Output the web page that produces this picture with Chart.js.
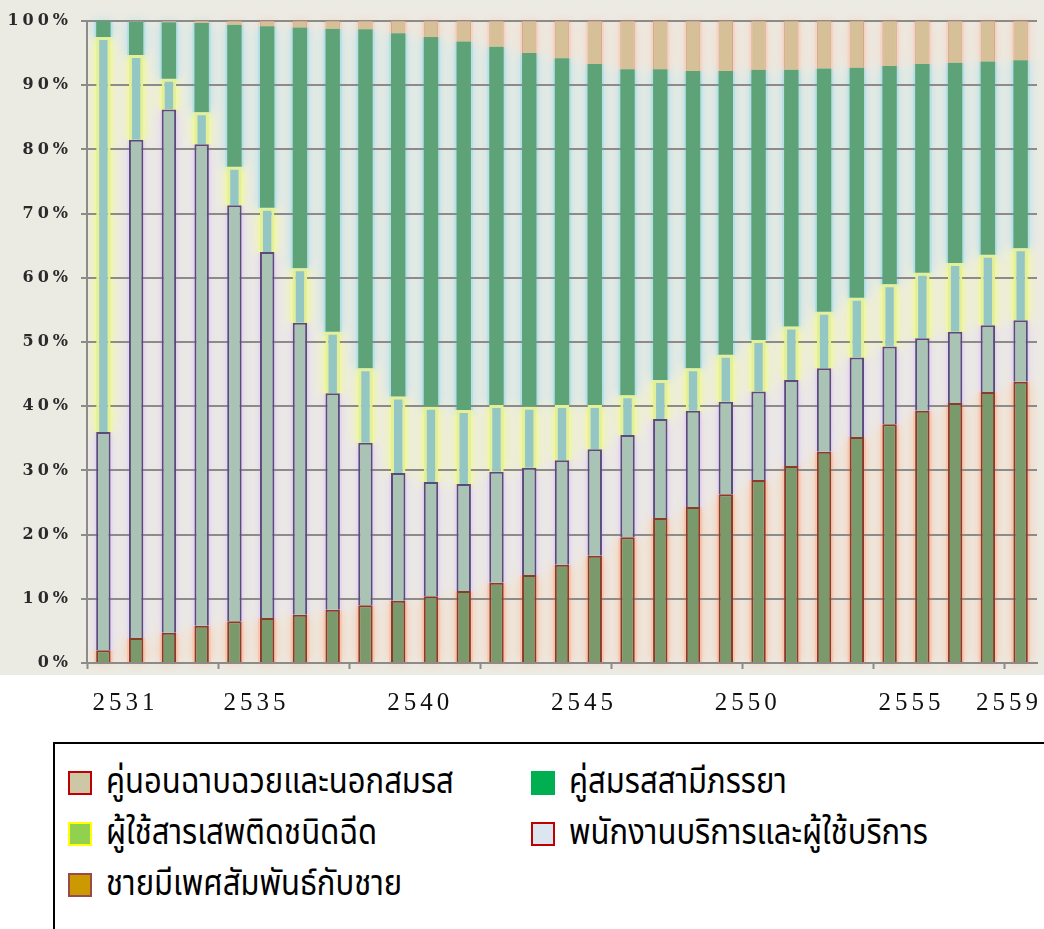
<!DOCTYPE html>
<html>
<head>
<meta charset="utf-8">
<script src="https://cdn.jsdelivr.net/npm/chart.js@4.4.1/dist/chart.umd.min.js"></script>
<style>
  html, body { margin: 0; padding: 0; background: #fff; overflow: hidden; }
  #wrap {
    position: relative; width: 1044px; height: 740px;
    background: linear-gradient(#ecebe3 0, #ecebe3 675px, #fff 675px);
  }
  #legend {
    position: absolute; left: 53px; top: 742px; width: 1100px; height: 300px;
    border: 2px solid #000; box-sizing: border-box;
    display: grid; grid-template-columns: 463px auto; grid-auto-rows: 51px;
    padding: 13px 0 0 13px;
    font-family: "Noto Sans Thai", "Noto Sans", "DejaVu Sans", sans-serif;
    font-size: 31px; color: #000;
  }
  .item { display: flex; align-items: center; white-space: nowrap; }
  .item span.t { display: inline-block; transform: scaleY(1.14); transform-origin: 0 55%; }
  .sw { width: 20px; height: 20px; border: 2px solid transparent; margin-right: 14px; flex: none; }
</style>
</head>
<body>
<div id="wrap"><canvas id="chart"></canvas></div>
<div id="legend"></div>

<script>
// ปี พ.ศ.
const years = ['2531','2532','2533','2534','2535','2536','2537','2538','2539','2540',
               '2541','2542','2543','2544','2545','2546','2547','2548','2549','2550',
               '2551','2552','2553','2554','2555','2556','2557','2558','2559'];
const shownYears = ['2531','2535','2540','2545','2550','2555','2559'];

// สัดส่วน (%) ของแต่ละกลุ่ม อ่านจากภาพ
const msm     = [2.0, 3.9, 4.7, 5.8, 6.5, 7.0, 7.5, 8.3, 9.0, 9.7, 10.4, 11.2, 12.5, 13.7, 15.3,
                 16.7, 19.6, 22.6, 24.3, 26.3, 28.5, 30.7, 32.9, 35.2, 37.2, 39.3, 40.5, 42.2, 43.8];
const sexWork = [34.0, 77.6, 81.5, 75.0, 64.8, 57.0, 45.5, 33.7, 25.3, 19.9, 17.8, 16.7, 17.3, 16.7, 16.3,
                 16.6, 15.9, 15.4, 15.0, 14.4, 13.8, 13.4, 13.0, 12.4, 12.1, 11.3, 11.1, 10.4, 9.6];
const idu     = [61.5, 13.2, 4.8, 5.0, 6.0, 6.9, 8.5, 9.6, 11.6, 11.9, 11.7, 11.5, 10.4, 9.5, 8.6,
                 6.9, 6.2, 6.1, 6.6, 7.3, 8.0, 8.3, 8.8, 9.3, 9.7, 10.2, 10.7, 11.0, 11.2];
const spouse  = [2.5, 5.2, 8.8, 13.9, 22.1, 28.3, 37.5, 47.2, 52.8, 56.6, 57.6, 57.4, 55.8, 55.1, 54.0,
                 53.1, 50.8, 48.4, 46.3, 44.2, 42.1, 40.0, 37.9, 35.8, 34.0, 32.5, 31.2, 30.1, 29.3];
const casual  = [0.0, 0.1, 0.2, 0.3, 0.6, 0.8, 1.0, 1.2, 1.3, 1.9, 2.5, 3.2, 4.0, 5.0, 5.8,
                 6.7, 7.5, 7.5, 7.8, 7.8, 7.6, 7.6, 7.4, 7.3, 7.0, 6.7, 6.5, 6.3, 6.1];

const gridColor = '#8d8b89';

// กลุ่มสำหรับคำอธิบาย (เรียงตามภาพ)
const legendItems = [
  { label: 'คู่นอนฉาบฉวยและนอกสมรส', fill: '#cdc7a6', border: '#c00000' },
  { label: 'คู่สมรสสามีภรรยา', fill: '#00b050', border: '#00b050' },
  { label: 'ผู้ใช้สารเสพติดชนิดฉีด', fill: '#92d050', border: '#ffff00' },
  { label: 'พนักงานบริการและผู้ใช้บริการ', fill: '#dce6f1', border: '#c00000' },
  { label: 'ชายมีเพศสัมพันธ์กับชาย', fill: '#cc9900', border: '#9b4a4a' }
];

const legendBox = document.getElementById('legend');
legendItems.forEach(it => {
  legendBox.insertAdjacentHTML('beforeend',
    `<div class="item"><span class="sw" style="background:${it.fill};border-color:${it.border}"></span><span class="t">${it.label}</span></div>`);
});

// แสงเรืองรอบแท่ง วาดก่อนเส้นตารางและแท่ง
const glowPlugin = {
  id: 'glow',
  beforeDraw(chart) {
    const ctx = chart.ctx;
    ctx.save();
    chart.data.datasets.forEach((ds, i) => {
      const meta = chart.getDatasetMeta(i);
      ctx.shadowColor = ds.glowColor;
      ctx.shadowBlur = 12;
      ctx.fillStyle = ds.glowColor;
      meta.data.forEach(el => {
        const p = el.getProps(['x', 'y', 'base', 'width'], true);
        const top = Math.min(p.y, p.base);
        const h = Math.abs(p.base - p.y);
        if (h <= 0) return;
        ctx.fillRect(p.x - p.width / 2 - 2, top, p.width + 4, h);
      });
    });
    ctx.restore();
  }
};

// ป้ายปีใต้แกน x
const yearLabelPlugin = {
  id: 'yearLabels',
  afterDraw(chart) {
    const ctx = chart.ctx;
    const xs = chart.scales.x;
    ctx.save();
    ctx.font = '25px "Liberation Serif", "DejaVu Serif", serif';
    ctx.letterSpacing = '4px';
    ctx.fillStyle = '#111';
    ctx.textAlign = 'center';
    ctx.textBaseline = 'alphabetic';
    shownYears.forEach(y => {
      const w = ctx.measureText(y).width;
      let x = xs.getPixelForValue(years.indexOf(y)) + 22;
      x = Math.min(x, chart.width - w / 2 - 2);
      ctx.fillText(y, x, xs.bottom - 30);
    });
    ctx.restore();
  }
};

// ระยะห่างตัวอักษรของป้ายแกน y
const spacingPlugin = {
  id: 'spacing',
  beforeUpdate(chart) { chart.ctx.letterSpacing = '4px'; },
  beforeDraw(chart) { chart.ctx.letterSpacing = '4px'; }
};

new Chart(document.getElementById('chart'), {
  type: 'bar',
  data: {
    labels: years,
    datasets: [
      { label: 'ชายมีเพศสัมพันธ์กับชาย', data: msm, backgroundColor: '#7b9a6c',
        borderColor: '#8a3b2b', borderWidth: { left: 2, right: 2, top: 2, bottom: 0 }, glowColor: '#f8c6ae' },
      { label: 'พนักงานบริการและผู้ใช้บริการ', data: sexWork, backgroundColor: '#a9c3b5',
        borderColor: '#5b4a7a', borderWidth: 2, glowColor: '#e4d8ee' },
      { label: 'ผู้ใช้สารเสพติดชนิดฉีด', data: idu, backgroundColor: '#94c6c4',
        borderColor: '#e4ef9a', borderWidth: 3, glowColor: '#f0f6a6' },
      { label: 'คู่สมรสสามีภรรยา', data: spouse, backgroundColor: '#5ea278',
        borderWidth: 0, glowColor: '#b6dfe6' },
      { label: 'คู่นอนฉาบฉวยและนอกสมรส', data: casual, backgroundColor: '#d6c097',
        borderColor: '#d4a48c', borderWidth: 1, glowColor: '#f3d5c5' }
    ]
  },
  options: {
    responsive: true,
    maintainAspectRatio: false,
    animation: false,
    layout: { padding: { top: 21, right: 7, bottom: 0, left: 0 } },
    datasets: { bar: { categoryPercentage: 1, barPercentage: 0.44 } },
    plugins: { legend: { display: false }, tooltip: { enabled: false } },
    scales: {
      x: {
        stacked: true,
        grid: {
          drawOnChartArea: false,
          tickLength: 6,
          tickWidth: 2,
          tickColor: c => (c.index % 4 === 0 ? gridColor : 'rgba(0,0,0,0)')
        },
        border: { color: gridColor, width: 2 },
        ticks: { display: false, autoSkip: false },
        afterFit(scale) { scale.height = 77; scale.paddingLeft = 0; scale.paddingRight = 0; }
      },
      y: {
        stacked: true,
        min: 0,
        max: 100,
        grid: { color: gridColor, lineWidth: 2, tickLength: 6 },
        border: { color: gridColor, width: 2 },
        ticks: {
          stepSize: 10,
          padding: 9,
          color: '#2a2a2a',
          font: { family: '"DejaVu Serif", serif', size: 16, weight: 'bold' },
          callback: v => v + '%'
        },
        afterFit(scale) { scale.width = 87; }
      }
    }
  },
  plugins: [glowPlugin, yearLabelPlugin, spacingPlugin]
});
</script>
</body>
</html>
